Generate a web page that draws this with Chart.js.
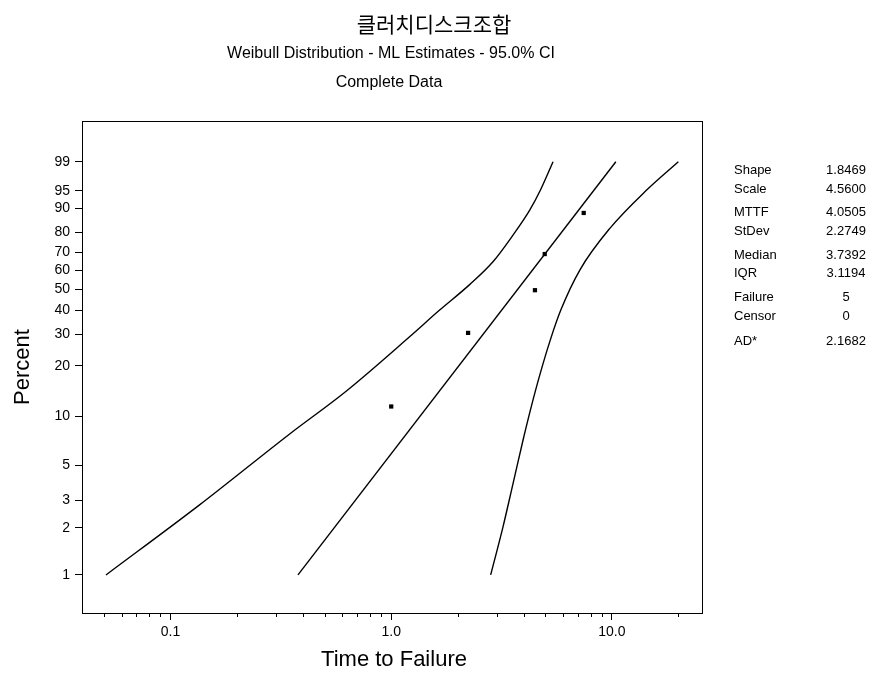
<!DOCTYPE html>
<html>
<head>
<meta charset="utf-8">
<script src="https://cdn.jsdelivr.net/npm/chart.js@4.4.1/dist/chart.umd.min.js"></script>
<style>
  html, body { margin: 0; padding: 0; background: #fff; }
  #wrap { position: relative; width: 871px; height: 681px; }
</style>
</head>
<body>
<div id="wrap"><canvas id="weibullChart" width="871" height="681"></canvas></div>
<script>
// Failure points (time, percent)
const failTimes = [1.0, 2.23, 4.48, 4.96, 7.45];
const failPercents = [11.5, 30.5, 49.6, 69.0, 88.4];

// Fitted Weibull line, end points
const fitTimes = [0.378, 10.42];
const fitPercents = [1, 99];

// 95% confidence bounds
const ciLeftTimes = [0.051, 0.1349, 0.3455, 0.6246, 1.211, 1.657, 2.266, 2.891, 3.564, 4.242, 4.745, 5.412];
const ciLeftPercents = [1, 2.79, 7.78, 14.2, 29.06, 39.96, 52.5, 64.8, 78.8, 89.4, 95.15, 99];
const ciRightTimes = [2.822, 3.21, 3.564, 3.955, 4.309, 4.734, 5.256, 5.867, 7.155, 9.789, 14.37, 20.0];
const ciRightPercents = [1, 2.03, 3.82, 7.14, 11.44, 18.09, 27.89, 39.96, 60.3, 82.0, 95.15, 99];

// Axis ticks
const percentTicks = [1, 2, 3, 5, 10, 20, 30, 40, 50, 60, 70, 80, 90, 95, 99];
const timeTicks = [0.1, 1, 10];
const timeTickLabels = ['0.1', '1.0', '10.0'];
const timeMinorTicks = [0.05, 0.06, 0.07, 0.08, 0.09, 0.2, 0.3, 0.4, 0.5, 0.6, 0.7, 0.8, 0.9, 2, 3, 4, 5, 6, 7, 8, 9, 20];

// Summary table
const statNames = ['Shape', 'Scale', 'MTTF', 'StDev', 'Median', 'IQR', 'Failure', 'Censor', 'AD*'];
const statValues = ['1.8469', '4.5600', '4.0505', '2.2749', '3.7392', '3.1194', '5', '0', '2.1682'];

const titleText = '클러치디스크조합';
const subtitleText = 'Weibull Distribution - ML Estimates - 95.0% CI';
const subtitle2Text = 'Complete Data';

// Weibull probability transform: ln(-ln(1-p))
function weib(pct) {
    return Math.log(-Math.log(1 - pct / 100));
}

function toPoints(xs, ys) {
    return xs.map((x, i) => ({ x: x, y: weib(ys[i]) }));
}

const FONT = 'Arial, "Liberation Sans", sans-serif';

// Frame, minor ticks and all the free text
const decorPlugin = {
    id: 'decor',
    afterDraw(chart) {
        const ctx = chart.ctx;
        const area = chart.chartArea;
        const xScale = chart.scales.x;
        ctx.save();
        ctx.strokeStyle = '#000';
        ctx.lineWidth = 1;
        ctx.strokeRect(area.left + 0.5, area.top + 0.5, area.right - area.left, area.bottom - area.top);

        // short minor ticks on time axis
        ctx.beginPath();
        timeMinorTicks.forEach(v => {
            const px = Math.round(xScale.getPixelForValue(v)) + 0.5;
            ctx.moveTo(px, area.bottom);
            ctx.lineTo(px, area.bottom + 4);
        });
        ctx.stroke();

        ctx.fillStyle = '#000';
        ctx.textBaseline = 'middle';
        ctx.textAlign = 'center';
        ctx.font = '21px "Noto Sans CJK KR", sans-serif';
        ctx.fillText(titleText, 434, 24);
        ctx.font = '16px ' + FONT;
        ctx.fillText(subtitleText, 391, 54);
        ctx.fillText(subtitle2Text, 389, 83);

        ctx.font = '22px ' + FONT;
        ctx.fillText('Time to Failure', 394, 660);
        ctx.save();
        ctx.translate(23, 367);
        ctx.rotate(-Math.PI / 2);
        ctx.fillText('Percent', 0, 0);
        ctx.restore();

        // stats panel
        ctx.font = '13px ' + FONT;
        const rowY = [170, 189, 212, 231, 255, 273, 297, 316, 341];
        statNames.forEach((name, i) => {
            ctx.textAlign = 'left';
            ctx.fillText(name, 734, rowY[i]);
            ctx.textAlign = 'center';
            ctx.fillText(statValues[i], 846, rowY[i]);
        });
        ctx.restore();
    }
};

const ctx = document.getElementById('weibullChart').getContext('2d');
const lineStyle = { borderColor: '#000', borderWidth: 1.4, pointRadius: 0, showLine: true, fill: false, cubicInterpolationMode: 'monotone' };

new Chart(ctx, {
    type: 'scatter',
    data: {
        datasets: [
            Object.assign({ label: 'Lower', data: toPoints(ciLeftTimes, ciLeftPercents) }, lineStyle),
            Object.assign({ label: 'Fit', data: toPoints(fitTimes, fitPercents) }, lineStyle),
            Object.assign({ label: 'Upper', data: toPoints(ciRightTimes, ciRightPercents) }, lineStyle),
            {
                label: 'Failures',
                data: toPoints(failTimes, failPercents),
                pointStyle: 'rect',
                pointRadius: 3,
                backgroundColor: '#000',
                borderColor: '#000',
                borderWidth: 0,
                showLine: false
            }
        ]
    },
    options: {
        responsive: false,
        animation: false,
        devicePixelRatio: 1,
        layout: { padding: { left: 0, top: 121, right: 169, bottom: 0 } },
        plugins: {
            legend: { display: false },
            tooltip: { enabled: false }
        },
        scales: {
            x: {
                type: 'logarithmic',
                min: 0.0397,
                max: 25.6,
                afterFit: axis => { axis.height = 68; },
                afterBuildTicks: axis => {
                    axis.ticks = timeTicks.map(v => ({ value: v }));
                },
                ticks: {
                    autoSkip: false,
                    maxRotation: 0,
                    padding: 4,
                    color: '#000',
                    font: { family: FONT, size: 14 },
                    callback: (val, i) => timeTickLabels[i]
                },
                grid: { drawOnChartArea: false, tickLength: 7, tickColor: '#000' },
                border: { color: '#000' }
            },
            y: {
                type: 'linear',
                min: weib(0.57),
                max: weib(99.978),
                afterFit: axis => { axis.width = 82; },
                afterBuildTicks: axis => {
                    axis.ticks = percentTicks.map(p => ({ value: weib(p) }));
                },
                ticks: {
                    autoSkip: false,
                    padding: 5,
                    color: '#000',
                    font: { family: FONT, size: 14 },
                    callback: (val, i) => String(percentTicks[i])
                },
                grid: { drawOnChartArea: false, tickLength: 7, tickColor: '#000' },
                border: { color: '#000' }
            }
        }
    },
    plugins: [decorPlugin]
});
</script>
</body>
</html>
